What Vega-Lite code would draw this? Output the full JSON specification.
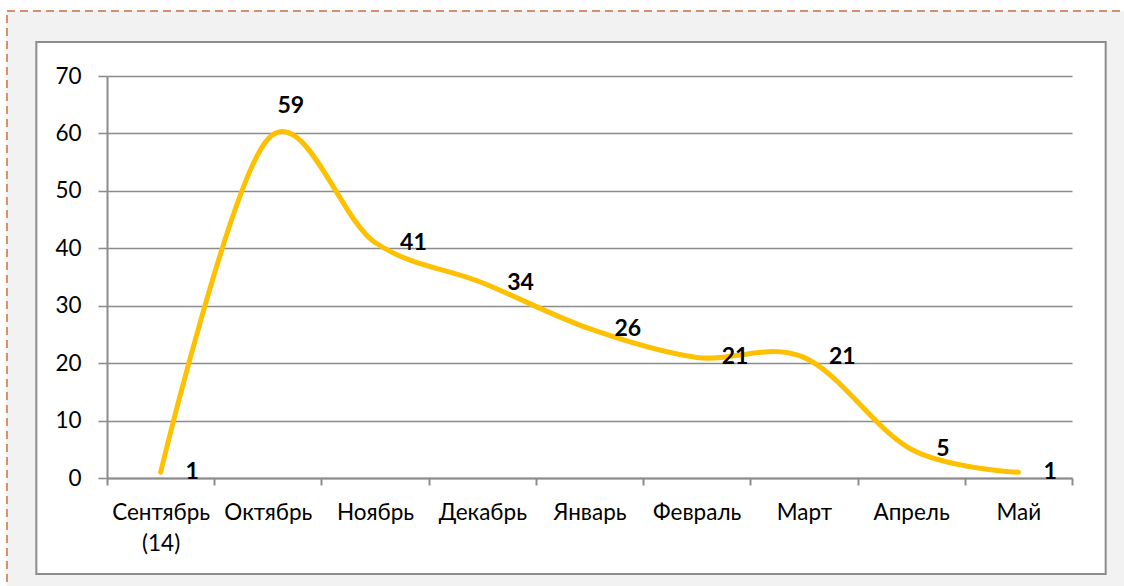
{
  "$schema": "https://vega.github.io/schema/vega-lite/v6.json",
  "width": 965,
  "height": 402,
  "autosize": {"type": "none"},
  "padding": {"left": 107, "top": 76, "right": 52, "bottom": 108},
  "background": "white",
  "config": {"view": {"stroke": null}, "font": "Lato"},
  "data": {
    "values": [
      {"month": "Сентябрь\n(14)", "value": 1},
      {"month": "Октябрь", "value": 59},
      {"month": "Ноябрь", "value": 41},
      {"month": "Декабрь", "value": 34},
      {"month": "Январь", "value": 26},
      {"month": "Февраль", "value": 21},
      {"month": "Март", "value": 21},
      {"month": "Апрель", "value": 5},
      {"month": "Май", "value": 1}
    ]
  },
  "resolve": {"scale": {"x": "independent"}},
  "layer": [
    {
      "data": {"values": [{}]},
      "layer": [
        {
          "mark": {"type": "rect", "fill": null, "stroke": "#f2f2f2", "strokeWidth": 30},
          "encoding": {
            "x": {"datum": -0.797, "type": "quantitative", "scale": {"domain": [0, 9], "nice": false, "zero": false}, "axis": null},
            "x2": {"datum": 9.457},
            "y": {"datum": 78.71, "type": "quantitative", "scale": {"domain": [0, 70], "nice": false}, "title": null},
            "y2": {"datum": -19.33}
          }
        },
        {
          "mark": {"type": "rect", "fill": null, "stroke": "#d3906f", "strokeWidth": 2, "strokeDash": [8, 5]},
          "encoding": {
            "x": {"datum": -0.933, "type": "quantitative", "scale": {"domain": [0, 9], "nice": false, "zero": false}, "axis": null},
            "x2": {"datum": 9.634},
            "y": {"datum": 81.32, "type": "quantitative", "scale": {"domain": [0, 70], "nice": false}, "title": null},
            "y2": {"datum": -21.24}
          }
        },
        {
          "mark": {"type": "rect", "fill": null, "stroke": "#8c8c8c", "strokeWidth": 2},
          "encoding": {
            "x": {"datum": -0.659, "type": "quantitative", "scale": {"domain": [0, 9], "nice": false, "zero": false}, "axis": null},
            "x2": {"datum": 9.314},
            "y": {"datum": 75.92, "type": "quantitative", "scale": {"domain": [0, 70], "nice": false}, "title": null},
            "y2": {"datum": -16.72}
          }
        }
      ]
    },
    {
      "encoding": {
        "x": {
          "field": "month",
          "type": "ordinal",
          "sort": null,
          "bandPosition": 0.5,
          "scale": {"type": "band", "paddingInner": 0, "paddingOuter": 0},
          "axis": {
            "title": null,
            "labelAngle": 0,
            "tickBand": "extent",
            "labelExpr": "split(datum.label, '\\n')",
            "labelFont": "Lato",
            "labelFontSize": 22.5,
            "labelColor": "#000000",
            "labelLineHeight": 31,
            "labelPadding": 16,
            "labelBaseline": "top",
            "labelOverlap": false,
            "tickSize": 7,
            "tickColor": "#8c8c8c",
            "tickWidth": 2,
            "domainColor": "#8c8c8c",
            "domainWidth": 2
          }
        },
        "y": {
          "field": "value",
          "type": "quantitative",
          "scale": {"domain": [0, 70], "nice": false},
          "axis": {
            "title": null,
            "values": [0, 10, 20, 30, 40, 50, 60, 70],
            "grid": true,
            "gridColor": "#8c8c8c",
            "gridWidth": 1.6,
            "domainColor": "#8c8c8c",
            "domainWidth": 2,
            "tickSize": 9,
            "tickColor": "#8c8c8c",
            "tickWidth": 1.6,
            "labelFont": "Lato",
            "labelFontSize": 22.5,
            "labelColor": "#000000",
            "labelPadding": 17
          }
        }
      },
      "layer": [
        {
          "mark": {"type": "line", "interpolate": "cardinal", "stroke": "#FFC000", "strokeWidth": 5, "strokeCap": "round"}
        },
        {
          "transform": [{"filter": "datum.month !== 'Октябрь'"}],
          "mark": {"type": "text", "align": "left", "baseline": "middle", "dx": 25, "font": "Lato", "fontSize": 23, "fontWeight": "bold", "color": "#000000"},
          "encoding": {"text": {"field": "value", "type": "quantitative"}}
        },
        {
          "transform": [{"filter": "datum.month === 'Октябрь'"}],
          "mark": {"type": "text", "align": "center", "baseline": "middle", "dx": 23, "dy": -33, "font": "Lato", "fontSize": 23, "fontWeight": "bold", "color": "#000000"},
          "encoding": {"text": {"field": "value", "type": "quantitative"}}
        }
      ]
    }
  ]
}
